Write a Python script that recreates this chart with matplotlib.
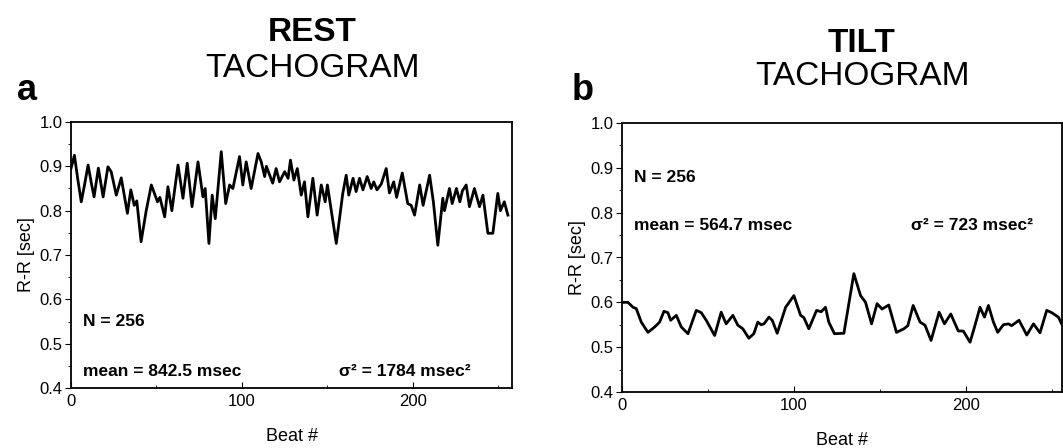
import matplotlib
matplotlib.use("Agg")
import matplotlib.pyplot as plt
from matplotlib.ticker import MultipleLocator

plt.rcParams["font.family"] = ["Liberation Sans", "DejaVu Sans"]

# ---------------------------------------------------------- data
rest_beat = [0, 2, 4, 6, 8, 10, 12, 13.5, 16, 18.8, 21.6, 23.5, 26.5, 29.4, 33, 35, 37, 38.5,
             41, 44, 47, 50.6, 52, 54.8, 56.7, 59, 62.6, 65.5, 68, 70.8, 74.3, 77.2, 78.5,
             80.7, 82.6, 84.4, 87.9, 90.5, 92.8, 94.7, 98.6, 100.5, 102.5, 105.4, 109.4,
             111.3, 113.3, 114.3, 118, 120, 122, 125, 127, 128.4, 130.4, 132.4, 134.7, 136.6,
             138.6, 141.5, 144, 146.4, 148.7, 150, 155.2, 159, 161, 162.5, 165, 166.8, 168.8,
             170.8, 173.3, 175.6, 177.1, 179, 181.5, 184.4, 186.3, 188.8, 190.5, 193.8, 197,
             199, 201, 204, 206, 209.8, 212, 214.6, 217.5, 218.5, 221.4, 223, 225.5, 227.5,
             229, 231.2, 233.1, 236, 239, 241, 243.9, 246.8, 249.7, 251.2, 253.5, 255.6]
rest_rr = [0.895, 0.925, 0.87, 0.82, 0.86, 0.903, 0.86, 0.831, 0.896, 0.831, 0.899, 0.888,
           0.835, 0.874, 0.794, 0.847, 0.812, 0.822, 0.73, 0.80, 0.858, 0.82, 0.83, 0.786,
           0.854, 0.80, 0.903, 0.828, 0.907, 0.809, 0.91, 0.831, 0.85, 0.726, 0.835, 0.782,
           0.933, 0.816, 0.858, 0.85, 0.922, 0.858, 0.91, 0.85, 0.929, 0.91, 0.877, 0.90,
           0.862, 0.895, 0.865, 0.888, 0.873, 0.914, 0.869, 0.895, 0.835, 0.865, 0.786,
           0.873, 0.79, 0.858, 0.82, 0.858, 0.726, 0.839, 0.88, 0.835, 0.873, 0.843, 0.873,
           0.847, 0.877, 0.85, 0.865, 0.847, 0.86, 0.895, 0.84, 0.865, 0.83, 0.885, 0.816,
           0.812, 0.79, 0.858, 0.812, 0.88, 0.82, 0.722, 0.828, 0.80, 0.85, 0.816, 0.85,
           0.82, 0.845, 0.858, 0.809, 0.85, 0.809, 0.835, 0.749, 0.749, 0.839, 0.80, 0.82,
           0.79]

tilt_beat = [0, 3.5, 6.4, 8.3, 11.2, 15.1, 19, 21.9, 24.4, 26.7, 28.3, 31.6, 34.5, 38.4,
             43.2, 46.1, 49, 53.9, 57.7, 60.6, 64.5, 67.4, 70.3, 73.8, 76.7, 79, 81, 82.6,
             85.5, 87.4, 90.3, 95.2, 100, 103.9, 105.8, 108.7, 113.2, 115.9, 118.4, 120.3,
             123.6, 129.1, 134.9, 138.8, 141.7, 145.2, 148.4, 151.3, 155.2, 159.7, 164,
             166.3, 169.4, 173.4, 176.3, 179.8, 184.5, 187.6, 191.3, 193.8, 195.7, 198.6,
             202.5, 205.4, 208.3, 210.9, 213.2, 216.1, 218.6, 221.9, 224.8, 226.7, 231,
             235.5, 239.4, 243.2, 247.1, 250, 253.9, 255.8]
tilt_rr = [0.60, 0.60, 0.589, 0.586, 0.556, 0.533, 0.545, 0.556, 0.58, 0.577, 0.56, 0.571,
           0.545, 0.53, 0.582, 0.577, 0.56, 0.526, 0.578, 0.552, 0.571, 0.549, 0.541, 0.52,
           0.53, 0.556, 0.55, 0.552, 0.567, 0.56, 0.531, 0.589, 0.615, 0.571, 0.566, 0.541,
           0.582, 0.579, 0.589, 0.556, 0.53, 0.531, 0.664, 0.615, 0.60, 0.552, 0.597, 0.585,
           0.594, 0.533, 0.541, 0.548, 0.593, 0.556, 0.549, 0.515, 0.578, 0.552, 0.574,
           0.552, 0.536, 0.536, 0.511, 0.549, 0.589, 0.567, 0.593, 0.556, 0.533, 0.55,
           0.552, 0.548, 0.56, 0.527, 0.552, 0.532, 0.582, 0.577, 0.567, 0.552]

panels = [
    dict(beat=rest_beat, rr=rest_rr, letter="a", head="REST",
         n="N = 256", mean="mean = 842.5 msec", var="σ² = 1784 msec²",
         n_y=0.549, m_y=0.437, var_x=157),
    dict(beat=tilt_beat, rr=tilt_rr, letter="b", head="TILT",
         n="N = 256", mean="mean = 564.7 msec", var="σ² = 723 msec²",
         n_y=0.878, m_y=0.772, var_x=168),
]

W, H = 1063, 448
# axes boxes in pixels: (left, top, right, bottom)
boxes = [(71, 122, 512, 388), (622, 123, 1062, 392)]
xmax = [258, 256]
heads = [(312, 41, 77), (862, 52, 85)]   # centre x, bold baseline, sub baseline
letters = [(17, 100), (572, 100)]

fig = plt.figure(figsize=(W/100, H/100), dpi=100)
for i, p in enumerate(panels):
    l, t, r, b = boxes[i]
    ax = fig.add_axes([l/W, 1-b/H, (r-l)/W, (b-t)/H])
    ax.plot(p["beat"], p["rr"], color="black", lw=2.0)
    ax.set_xlim(0, xmax[i]); ax.set_ylim(0.4, 1.0)
    ax.xaxis.set_major_locator(MultipleLocator(100)); ax.xaxis.set_minor_locator(MultipleLocator(50))
    ax.yaxis.set_major_locator(MultipleLocator(0.1)); ax.yaxis.set_minor_locator(MultipleLocator(0.05))
    ax.yaxis.set_major_formatter(plt.FuncFormatter(lambda v, _: f"{v:.1f}"))
    ax.tick_params(axis="y", which="major", direction="out", length=4, labelsize=12, pad=2)
    ax.tick_params(axis="y", which="minor", direction="out", length=2)
    ax.tick_params(axis="x", which="major", direction="in", length=4, labelsize=12, pad=4)
    ax.tick_params(axis="x", which="minor", direction="in", length=2)
    for s in ax.spines.values(): s.set_linewidth(1.3)
    ax.set_xlabel("Beat #", fontsize=13, labelpad=14)
    ax.set_ylabel("R-R [sec]", fontsize=13, labelpad=3)
    ax.text(7, p["n_y"], p["n"], fontsize=12.5, fontweight="bold", va="center")
    ax.text(7, p["m_y"], p["mean"], fontsize=12.5, fontweight="bold", va="center")
    ax.text(p["var_x"], p["m_y"], p["var"], fontsize=12.5, fontweight="bold", va="center")

    cx, yb, ys = heads[i]
    fig.text(cx/W, 1-yb/H, p["head"], fontsize=24, fontweight="bold", ha="center", va="baseline")
    fig.text(cx/W, 1-ys/H, "TACHOGRAM", fontsize=24, ha="center", va="baseline")
    lx, ly = letters[i]
    fig.text(lx/W, 1-ly/H, p["letter"], fontsize=26, fontweight="bold", ha="left", va="baseline")

fig.savefig("out.png", dpi=100)
